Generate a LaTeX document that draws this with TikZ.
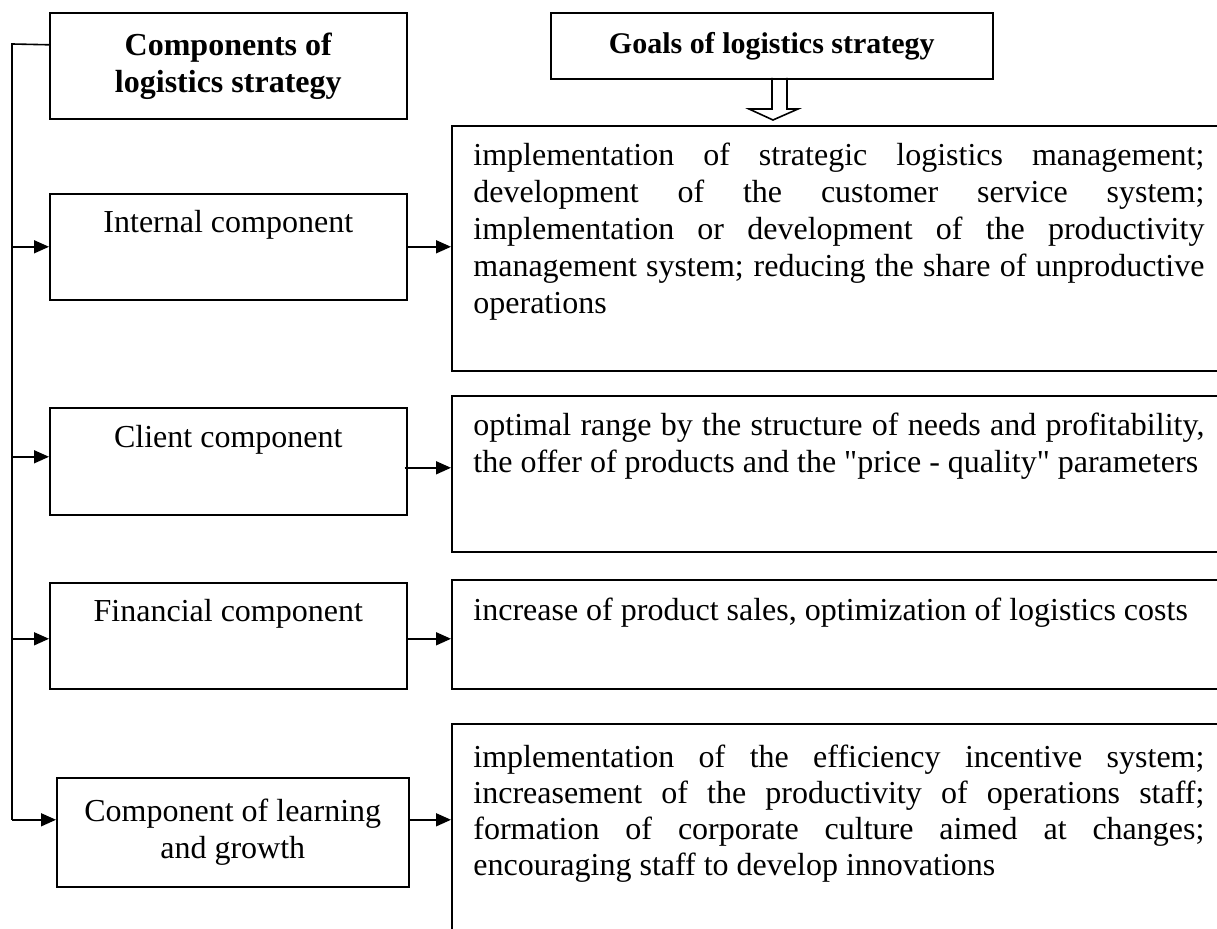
\documentclass[tikz,border=0pt]{standalone}
\usepackage{fontspec}
\setmainfont{Liberation Serif}
\usetikzlibrary{positioning,arrows.meta}
\newcommand\diagfont{\fontsize{16}{18.5}\selectfont}
\tikzset{
  compbox/.style={draw, line width=0.8pt, minimum width=178.5pt, minimum height=53pt, inner sep=0pt, anchor=north west},
  goalbox/.style={draw, line width=0.8pt, minimum width=400pt, inner sep=0pt, anchor=north west},
  goaltext/.style={anchor=north west, text width=365.5pt, align=justify, inner sep=0pt},
  link/.style={line width=0.8pt, -{Triangle[length=7.5pt,width=6.5pt]}},
}
\begin{document}
\begin{tikzpicture}[x=0.5pt,y=-0.5pt,font=\diagfont]
\clip (0,0) rectangle (1217,929);
%headers
\node[compbox, align=center, font=\diagfont\bfseries] (comp) at (49,12) {Components of\\logistics strategy};
\node[compbox, minimum width=221pt, minimum height=33pt, font=\fontsize{15}{18}\selectfont\bfseries] (goals) at (550,12) {Goals of logistics strategy};
%left column
\node[compbox] (int) at (49,193) {};
\node[anchor=base] (intlbl) at ([yshift=-20pt]int.north) {Internal component};
\node[compbox, minimum height=53.5pt] (cli) at (49,407) {};
\node[anchor=base] (clilbl) at ([yshift=-20.5pt]cli.north) {Client component};
\node[compbox] (fin) at (49,582) {};
\node[anchor=base] (finlbl) at ([yshift=-20pt]fin.north) {Financial component};
\node[compbox, minimum width=176pt, minimum height=54.5pt, align=center] (learn) at (56,777) {Component of learning\\and growth};
%right column
\node[goalbox, minimum height=122.5pt] (g1) at (451,125) {};
\node[goaltext] (g1txt) at ([xshift=11pt,yshift=-9pt]g1.north west) {implementation of strategic logistics management;\linebreak
  development of the customer service system;\linebreak
  implementation or development of the productivity\linebreak
  management system; reducing the share of unproductive\linebreak
  operations};
\node[goalbox, minimum height=78pt] (g2) at (451,395) {};
\node[goaltext] (g2txt) at ([xshift=11pt,yshift=-9pt]g2.north west) {optimal range by the structure of needs and profitability,\linebreak
  the offer of products and the \textquotedbl price - quality\textquotedbl{} parameters};
\node[goalbox, minimum height=54.5pt] (g3) at (451,579) {};
\node[goaltext] (g3txt) at ([xshift=11pt,yshift=-9.5pt]g3.north west) {increase of product sales, optimization of logistics costs};
\node[goalbox, minimum height=118.5pt] (g4) at (451,723) {};
\node[goaltext, font=\fontsize{16}{18}\selectfont] (g4txt) at ([xshift=11pt,yshift=-11pt]g4.north west) {implementation of the efficiency incentive system;\linebreak
  increasement of the productivity of operations staff;\linebreak
  formation of corporate culture aimed at changes;\linebreak
  encouraging staff to develop innovations};
%hollow arrow
\coordinate (hollow) at (772,78);
\draw[line width=0.8pt] (hollow) -- ++(0,31) -- ++(-23,0) -- ++(24,11) -- ++(25,-11) -- ++(-11,0) -- ++(0,-31);
%trunk and branches
\coordinate (trunk) at (12,44);
\coordinate (compout) at ([yshift=10.5pt]comp.west);
\coordinate (cliin) at ([yshift=2.25pt]cli.west);
\coordinate (finin) at ([yshift=-1.5pt]fin.west);
\coordinate (learnin) at ([yshift=6.25pt]learn.west);
\draw[line width=0.8pt] (compout) -- (trunk) -- (trunk |- learnin);
\draw[link] (trunk |- int.west) -- (int.west);
\draw[link] (trunk |- cliin) -- (cliin);
\draw[link] (trunk |- finin) -- (finin);
\draw[link] (trunk |- learnin) -- (learnin);
%to goals
\coordinate (cliout) at ([xshift=-1.5pt,yshift=-3.25pt]cli.east);
\coordinate (finout) at ([yshift=-1.5pt]fin.east);
\coordinate (learnout) at ([yshift=6.25pt]learn.east);
\draw[link] (int.east) -- (int.east -| g1.west);
\draw[link] (cliout) -- (cliout -| g2.west);
\draw[link] (finout) -- (finout -| g3.west);
\draw[link] (learnout) -- (learnout -| g4.west);
\end{tikzpicture}
\end{document}
